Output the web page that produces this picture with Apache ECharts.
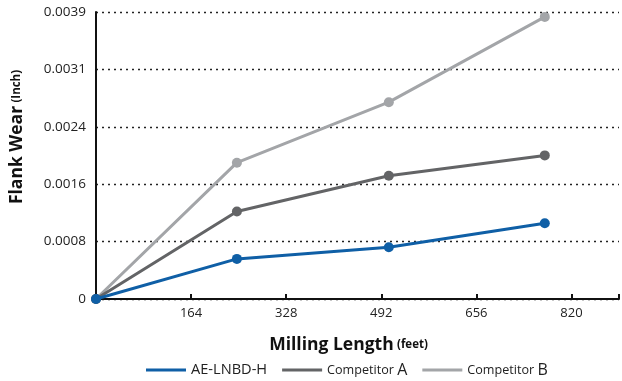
<!DOCTYPE html>
<html>
<head>
<meta charset="utf-8">
<script src="https://cdn.jsdelivr.net/npm/echarts@6/dist/echarts.min.js"></script>
<style>
  html, body { margin: 0; padding: 0; background: #fff; }
  #chart { width: 622px; height: 381px; }
</style>
</head>
<body>
<div id="chart"></div>
<script>
// Milling length in feet for each measurement
const millingLength = [0, 243, 505, 774];

// Flank wear in inches
const aeLnbdH = [0, 0.00055, 0.00071, 0.00104];
const competitorA = [0, 0.00120, 0.00169, 0.00197];
const competitorB = [0, 0.00187, 0.00270, 0.00387];

const seriesNames = ['AE-LNBD-H', 'Competitor A', 'Competitor B'];
const seriesColors = ['#0f5fa6', '#636466', '#a3a5a8'];

// Axis ranges (wear axis runs 0 to 0.1 mm, shown in inches)
const xMax = 902;
const xStep = 164;
const yMax = 0.003937;
const yStep = yMax / 5;

const FONT = '"Open Sans", "Noto Sans", sans-serif';

function pairs(xs, ys) {
  return xs.map((x, i) => [x, ys[i]]);
}

// Legend labels: "Competitor" set smaller than its trailing letter
function legendLabel(name) {
  const m = name.match(/^(Competitor) (\S+)$/);
  return m ? '{c|' + m[1] + ' }{k|' + m[2] + '}' : '{p|' + name + '}';
}

const nameRich = {
  b: { fontFamily: FONT, fontSize: 17.5, fontWeight: 'bold', color: '#111' },
  s: { fontFamily: FONT, fontSize: 11.5, fontWeight: 'bold', color: '#111' }
};

const chart = echarts.init(document.getElementById('chart'));
chart.setOption({
  animation: false,
  grid: { left: 96, right: 2, top: 12, bottom: 82 },
  legend: {
    top: 357,
    left: 141,
    itemWidth: 40,
    itemHeight: 3,
    itemGap: 15,
    icon: 'rect',
    formatter: legendLabel,
    textStyle: {
      fontFamily: FONT, color: '#222',
      rich: {
        p: { fontFamily: FONT, fontSize: 14.6, color: '#222' },
        c: { fontFamily: FONT, fontSize: 12.6, color: '#222' },
        k: { fontFamily: FONT, fontSize: 16, color: '#222' }
      }
    },
    data: seriesNames
  },
  xAxis: {
    type: 'value',
    min: 0,
    max: xMax,
    interval: xStep,
    name: '{b|Milling Length} {s|(feet)}',
    nameLocation: 'middle',
    nameGap: 37,
    nameTextStyle: { rich: nameRich, padding: [0, 18, 0, 0] },
    axisLine: { lineStyle: { color: '#111', width: 2 } },
    axisTick: { inside: true, length: 5, lineStyle: { color: '#111', width: 2 } },
    axisLabel: {
      fontFamily: FONT, fontSize: 13, color: '#222', margin: 8,
      formatter: v => (v === 0 || v > 820) ? '' : String(v)
    },
    splitLine: { show: false }
  },
  yAxis: {
    type: 'value',
    min: 0,
    max: yMax,
    interval: yStep,
    name: '{b|Flank Wear} {s|(Inch)}',
    nameLocation: 'middle',
    nameRotate: 90,
    nameGap: 70,
    nameTextStyle: { rich: nameRich, padding: [0, 0, 0, 37] },
    axisLine: { show: true, lineStyle: { color: '#111', width: 2 } },
    axisTick: { show: false },
    axisLabel: {
      fontFamily: FONT, fontSize: 13.5, color: '#222', margin: 10,
      formatter: v => v === 0 ? '0' : v.toFixed(4)
    },
    splitLine: { show: true, lineStyle: { color: '#222', width: 1.3, type: [2, 4] } }
  },
  series: [aeLnbdH, competitorA, competitorB].map((ys, i) => ({
    name: seriesNames[i],
    type: 'line',
    data: pairs(millingLength, ys),
    symbol: 'circle',
    symbolSize: 10,
    z: 10 - i,
    lineStyle: { color: seriesColors[i], width: 3 },
    itemStyle: { color: seriesColors[i] }
  }))
});
</script>
</body>
</html>
